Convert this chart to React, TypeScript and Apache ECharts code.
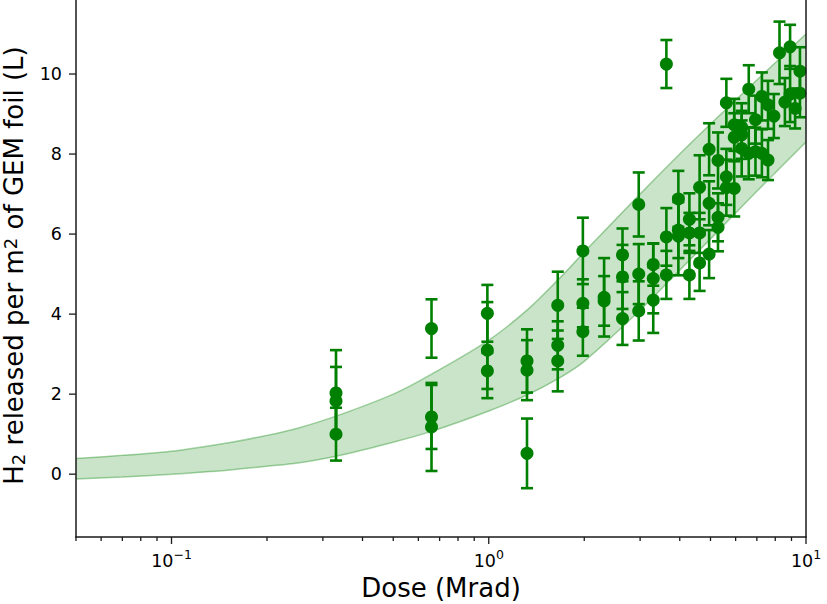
import React, { useEffect, useRef } from 'react';
import * as echarts from 'echarts';

// ---- data ----
const pointDose = [
  0.33, 0.33, 0.33,
  0.66, 0.66, 0.66,
  0.99, 0.99, 0.99,
  1.32, 1.32, 1.32,
  1.65, 1.65, 1.65,
  1.98, 1.98, 1.98,
  2.31, 2.31,
  2.64, 2.64, 2.64,
  2.97, 2.97, 2.97,
  3.30, 3.30, 3.30,
  3.63, 3.63, 3.63,
  3.96, 3.96, 3.96,
  4.29, 4.29, 4.29,
  4.62, 4.62, 4.62,
  4.95, 4.95, 4.95,
  5.28, 5.28, 5.28,
  5.61, 5.61, 5.61,
  5.94, 5.94, 5.94,
  6.27, 6.27, 6.27,
  6.60, 6.60,
  6.93, 6.93,
  7.26, 7.26,
  7.59, 7.59,
  7.92,
  8.25,
  8.58,
  8.91, 8.91,
  9.24,
  9.57, 9.57,
];
const pointH2 = [
  2.03, 1.83, 1.0,
  3.64, 1.43, 1.18,
  4.02, 3.1, 2.58,
  2.83, 2.6, 0.52,
  4.22, 3.22, 2.83,
  5.58, 4.27, 3.56,
  4.42, 4.33,
  5.48, 4.93, 3.89,
  6.74, 5.0, 4.08,
  5.24, 4.89, 4.35,
  10.25, 5.93, 4.98,
  6.88, 6.1, 5.95,
  6.37, 6.03, 4.98,
  7.17, 6.03, 5.28,
  8.12, 6.77, 5.5,
  7.84, 6.42, 6.17,
  9.28, 7.43, 7.16,
  8.73, 8.42, 7.14,
  8.67, 8.48, 8.14,
  9.62, 8.02,
  8.86, 8.06,
  9.44, 8.02,
  9.23, 7.85,
  8.95,
  10.53,
  9.3,
  10.68, 9.5,
  9.14,
  10.07, 9.52,
];
const pointErr = [
  1.07, 0.85, 0.66,
  0.73, 0.8, 1.1,
  0.71, 1.2, 0.45,
  0.79, 0.75, 0.87,
  0.84, 0.6, 0.76,
  0.83, 0.6, 0.6,
  0.98, 0.62,
  0.66, 0.8, 0.66,
  0.8, 0.75, 0.74,
  0.53, 0.87, 0.82,
  0.6, 0.72, 0.6,
  0.7, 0.7, 0.98,
  0.65, 0.5, 0.6,
  0.8, 0.5, 0.7,
  0.65, 0.55, 0.6,
  0.7, 0.6, 0.6,
  0.6, 0.7, 0.7,
  0.65, 0.6, 0.7,
  0.6, 0.6, 0.7,
  0.6, 0.65,
  0.6, 0.6,
  0.6, 0.6,
  0.6, 0.5,
  0.55,
  0.78,
  0.6,
  0.55, 0.7,
  0.5,
  0.6, 0.6,
];

const bandDose = [0.05, 0.07, 0.1, 0.15, 0.2, 0.25, 0.33, 0.5, 0.66, 1.0, 1.32, 1.65, 2.0, 3.0, 4.0, 5.0, 7.0, 10];
const bandUpper = [0.39, 0.47, 0.57, 0.78, 0.97, 1.15, 1.45, 2.0, 2.5, 3.35, 4.1, 4.85, 5.55, 7.0, 8.0, 8.75, 9.85, 11.0];
const bandLower = [-0.12, -0.07, 0.0, 0.1, 0.2, 0.28, 0.45, 0.8, 1.07, 1.58, 1.98, 2.38, 2.82, 4.1, 5.1, 5.88, 7.07, 8.3];

const xMajorTicks = [0.1, 1, 10];
const xMinorTicks = [0.05, 0.06, 0.07, 0.08, 0.09, 0.2, 0.3, 0.4, 0.5, 0.6, 0.7, 0.8, 0.9, 2, 3, 4, 5, 6, 7, 8, 9];
const yTicks = [0, 2, 4, 6, 8, 10];

const X_MIN = 0.05;
const X_MAX = 10;
const Y_MIN = -1.57;
const Y_MAX = 12;

const GREEN = '#008000';
const AXIS = '#1a1a1a';
const FONT = 'DejaVu Sans';

export default function App() {
  const ref = useRef<HTMLDivElement>(null);

  useEffect(() => {
    if (!ref.current) return;
    const chart = echarts.init(ref.current, undefined, { renderer: 'svg' });

    const errData = pointDose.map((d, i) => [d, pointH2[i], pointErr[i]]);
    const scatterData = pointDose.map((d, i) => [d, pointH2[i]]);
    const lowerData = bandDose.map((d, i) => [d, bandLower[i]]);
    const upperData = bandDose.map((d, i) => [d, bandUpper[i]]);

    const tickData: any[] = [];
    xMajorTicks.forEach((v) => tickData.push([v, Y_MIN, 0]));
    xMinorTicks.forEach((v) => tickData.push([v, Y_MIN, 1]));
    yTicks.forEach((v) => tickData.push([X_MIN, v, 2]));

    const option: any = {
      animation: false,
      backgroundColor: '#ffffff',
      grid: {
        left: 76,
        right: 21,
        top: -6,
        bottom: 67,
        show: false,
        containLabel: false,
        outerBoundsMode: 'none',
      },
      xAxis: {
        type: 'log',
        logBase: 10,
        min: X_MIN,
        max: X_MAX,
        z: 10,
        name: 'Dose (Mrad)',
        nameLocation: 'middle',
        nameGap: 34,
        nameTextStyle: { fontFamily: FONT, fontSize: 26, color: '#000', verticalAlign: 'top' },
        axisLine: { show: true, onZero: false, lineStyle: { color: AXIS, width: 1.5 } },
        axisTick: { show: false },
        splitLine: { show: false },
        minorTick: { show: false },
        axisLabel: {
          show: true,
          showMinLabel: true,
          showMaxLabel: true,
          margin: 11,
          color: '#000',
          fontFamily: FONT,
          formatter: (v: number) => {
            const l = Math.log10(v);
            const r = Math.round(l);
            if (Math.abs(l - r) > 1e-6) return '';
            const e = r < 0 ? '\u2212' + Math.abs(r) : String(r);
            return '{b|10}{s|' + e + '}';
          },
          rich: {
            b: { fontFamily: FONT, fontSize: 17.5, color: '#000', verticalAlign: 'bottom', lineHeight: 22 },
            s: { fontFamily: FONT, fontSize: 12.5, color: '#000', verticalAlign: 'bottom', lineHeight: 13, padding: [0, 0, 9, 0] },
          },
        },
      },
      yAxis: [
        {
          type: 'value',
          min: Y_MIN,
          max: Y_MAX,
          z: 10,
          name: '{n|H}{sub|2}{n| released per m}{sup|2}{n| of GEM foil (L)}',
          nameLocation: 'middle',
          nameRotate: 90,
          nameGap: 49,
          nameTextStyle: {
            fontFamily: FONT,
            color: '#000',
            rich: {
              n: { fontFamily: FONT, fontSize: 26, color: '#000', verticalAlign: 'bottom', lineHeight: 26 },
              sub: { fontFamily: FONT, fontSize: 18, color: '#000', verticalAlign: 'bottom', lineHeight: 18, padding: [0, 0, 0, 0] },
              sup: { fontFamily: FONT, fontSize: 18, color: '#000', verticalAlign: 'bottom', lineHeight: 18, padding: [0, 0, 8, 0] },
            },
          },
          axisLine: { show: true, onZero: false, lineStyle: { color: AXIS, width: 1.5 } },
          axisTick: { show: false },
          splitLine: { show: false },
          axisLabel: { show: false },
        },
        {
          type: 'value',
          position: 'right',
          min: Y_MIN,
          max: Y_MAX,
          z: 10,
          axisLine: { show: true, onZero: false, lineStyle: { color: AXIS, width: 1.5 } },
          axisTick: { show: false },
          splitLine: { show: false },
          axisLabel: { show: false },
        },
      ],
      series: [
        {
          type: 'line',
          data: upperData,
          smooth: 0.35,
          symbol: 'none',
          lineStyle: { color: 'rgba(0,128,0,0.35)', width: 1.5 },
          areaStyle: { color: 'rgba(0,128,0,0.3)', origin: 'start' },
          z: 1,
          silent: true,
        },
        {
          type: 'line',
          data: lowerData,
          smooth: 0.35,
          symbol: 'none',
          lineStyle: { color: 'rgba(0,128,0,0.35)', width: 1.5 },
          areaStyle: { color: '#ffffff', opacity: 1, origin: 'start' },
          z: 2,
          silent: true,
        },
        {
          type: 'custom',
          data: errData,
          z: 3,
          silent: true,
          clip: false,
          renderItem: (params: any, api: any) => {
            const x = api.value(0);
            const y = api.value(1);
            const e = api.value(2);
            const top = api.coord([x, y + e]);
            const bot = api.coord([x, y - e]);
            const cw = 6;
            const st = { stroke: GREEN, lineWidth: 2.6 };
            return {
              type: 'group',
              children: [
                { type: 'line', shape: { x1: top[0], y1: top[1], x2: bot[0], y2: bot[1] }, style: st },
                { type: 'line', shape: { x1: top[0] - cw, y1: top[1], x2: top[0] + cw, y2: top[1] }, style: st },
                { type: 'line', shape: { x1: bot[0] - cw, y1: bot[1], x2: bot[0] + cw, y2: bot[1] }, style: st },
              ],
            };
          },
        },
        {
          type: 'scatter',
          data: scatterData,
          symbol: 'circle',
          symbolSize: 13,
          itemStyle: { color: GREEN, opacity: 1 },
          z: 4,
          silent: true,
        },
        {
          type: 'custom',
          data: tickData,
          z: 11,
          silent: true,
          clip: false,
          renderItem: (params: any, api: any) => {
            const x = api.value(0);
            const y = api.value(1);
            const k = api.value(2);
            const p = api.coord([x, y]);
            const st = { stroke: AXIS, lineWidth: 1.3 };
            if (k === 2) {
              return {
                type: 'group',
                children: [
                  { type: 'line', shape: { x1: p[0] - 7, y1: p[1], x2: p[0], y2: p[1] }, style: st },
                  {
                    type: 'text',
                    x: p[0] - 14,
                    y: p[1],
                    style: {
                      text: String(y),
                      fill: '#000',
                      font: '17.5px "DejaVu Sans"',
                      align: 'right',
                      verticalAlign: 'middle',
                    },
                  },
                ],
              };
            }
            const len = k === 0 ? 7 : 4;
            return { type: 'line', shape: { x1: p[0], y1: p[1], x2: p[0], y2: p[1] + len }, style: st };
          },
        },
      ],
    };

    chart.setOption(option);
    return () => chart.dispose();
  }, []);

  return (
    <div
      ref={ref}
      style={{ position: 'fixed', left: 0, top: 0, width: 827, height: 604, background: '#fff' }}
    />
  );
}
